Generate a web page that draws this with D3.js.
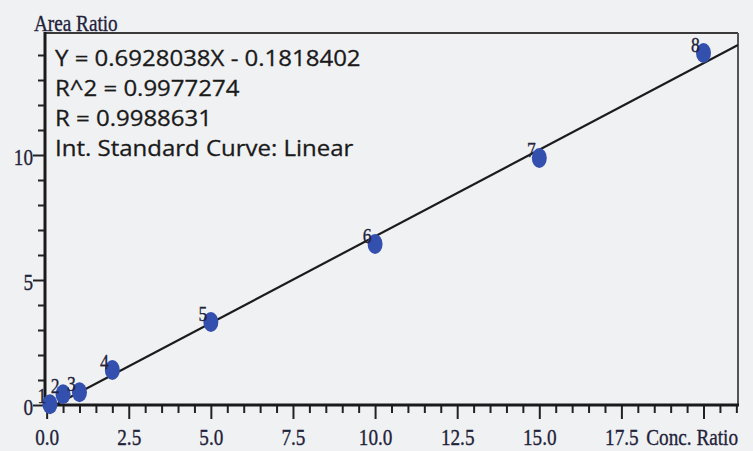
<!DOCTYPE html>
<html>
<head>
<meta charset="utf-8">
<script src="https://cdn.jsdelivr.net/npm/d3@7"></script>
<style>
  html, body { margin: 0; padding: 0; background: #f0f1f3; }
  svg { display: block; }
</style>
</head>
<body>
<div id="chart"></div>
<script>
// ---- data ----
const pointIds   = ["1", "2", "3", "4", "5", "6", "7", "8"];
const concRatio  = [0.1, 0.5, 1.0, 2.0, 5.0, 10.0, 15.0, 20.0];
const areaRatio  = [0.03, 0.43, 0.51, 1.40, 3.32, 6.44, 9.88, 14.08];
const fitSlope = 0.6928038;
const fitIntercept = -0.1818402;
const fitLineX = [0.2625, 21.05];
const xMajorTicks = [0, 2.5, 5, 7.5, 10, 12.5, 15, 17.5, 20];
const xTickLabels = ["0.0", "2.5", "5.0", "7.5", "10.0", "12.5", "15.0", "17.5", ""];
const yMajorTicks = [0, 5, 10];
const yTickLabels = ["0", "5", "10"];
const statLines = [
  "Y = 0.6928038X - 0.1818402",
  "R^2 = 0.9977274",
  "R = 0.9988631",
  "Int. Standard Curve: Linear"
];
const xTitle = "Conc. Ratio";
const yTitle = "Area Ratio";

// ---- layout ----
const W = 753, H = 451;
const pL = 45, pR = 738, pT = 33, pB = 405;

const svg = d3.select("#chart").append("svg")
  .attr("width", W).attr("height", H);

svg.append("rect").attr("width", W).attr("height", H).attr("fill", "#f0f1f3");

const x = d3.scaleLinear().domain([-0.05, 21.05]).range([pL, pR]);
const y = d3.scaleLinear().domain([0, 14.88]).range([pB, pT]);

const serif = "'Liberation Serif', 'DejaVu Serif', serif";
const sans = "'Open Sans', 'Liberation Sans', sans-serif";
const textCol = "#22223a";

function stretch(sel, factor) {
  sel.each(function () {
    const w = this.getComputedTextLength();
    if (w > 0) d3.select(this).attr("textLength", w * factor).attr("lengthAdjust", "spacingAndGlyphs");
  });
}
function serifText(sel, size) {
  sel.attr("font-family", serif).attr("font-size", size).attr("fill", textCol)
    .attr("stroke", textCol).attr("stroke-width", 0.35);
}

// clip
svg.append("defs").append("clipPath").attr("id", "plotclip")
  .append("rect").attr("x", pL).attr("y", pT).attr("width", pR - pL).attr("height", pB - pT);

// frame: top and right borders
svg.append("line").attr("x1", pL).attr("x2", pR).attr("y1", pT).attr("y2", pT)
  .attr("stroke", "#3a3a3a").attr("stroke-width", 2);
svg.append("line").attr("x1", pR).attr("x2", pR).attr("y1", pT).attr("y2", pB)
  .attr("stroke", "#555").attr("stroke-width", 2);

// x axis
const xMinor = d3.range(0, 21.01, 0.5).filter(v => !xMajorTicks.some(m => Math.abs(m - v) < 1e-6));
const xAxisMinor = d3.axisBottom(x).tickValues(xMinor).tickSize(8).tickFormat("");
const xAxisMajor = d3.axisBottom(x).tickValues(xMajorTicks).tickSize(14)
  .tickFormat((d, i) => xTickLabels[i]);

const gxMinor = svg.append("g").attr("transform", `translate(0,${pB})`).call(xAxisMinor);
const gxMajor = svg.append("g").attr("transform", `translate(0,${pB})`).call(xAxisMajor);
[gxMinor, gxMajor].forEach(g => {
  g.select(".domain").remove();
  g.selectAll(".tick line").attr("stroke", "#222").attr("stroke-width", 2);
});
gxMinor.selectAll(".tick text").remove();
gxMajor.selectAll(".tick text").filter(function () { return !this.textContent; }).remove();
gxMajor.selectAll(".tick text")
  .attr("dy", null)
  .attr("y", 40)
  .call(serifText, 24)
  .call(stretch, 0.8);

// y axis
const yMinor = d3.range(0, 14.5, 1).filter(v => !yMajorTicks.includes(v));
const yAxisMinor = d3.axisLeft(y).tickValues(yMinor).tickSize(7).tickFormat("");
const yAxisMajor = d3.axisLeft(y).tickValues(yMajorTicks).tickSize(12)
  .tickFormat((d, i) => yTickLabels[i]);
const gyMinor = svg.append("g").attr("transform", `translate(${pL},0)`).call(yAxisMinor);
const gyMajor = svg.append("g").attr("transform", `translate(${pL},0)`).call(yAxisMajor);
[gyMinor, gyMajor].forEach(g => {
  g.select(".domain").remove();
  g.selectAll(".tick line").attr("stroke", "#222").attr("stroke-width", 2);
});
gyMinor.selectAll(".tick text").remove();
gyMajor.selectAll(".tick text")
  .attr("dy", null).attr("y", 9).attr("x", -12)
  .call(serifText, 24)
  .call(stretch, 0.8);

// axis lines (thick)
svg.append("line").attr("x1", pL).attr("x2", pR + 1).attr("y1", pB).attr("y2", pB)
  .attr("stroke", "#1a1a1a").attr("stroke-width", 3);
svg.append("line").attr("x1", pL).attr("x2", pL).attr("y1", pT - 1).attr("y2", pB + 1.5)
  .attr("stroke", "#1a1a1a").attr("stroke-width", 3);

// axis titles
svg.append("text").attr("x", 34).attr("y", 31)
  .call(serifText, 24)
  .text(yTitle).call(stretch, 0.8);
svg.append("text").attr("x", pR).attr("y", pB + 40).attr("text-anchor", "end")
  .call(serifText, 24)
  .text(xTitle).call(stretch, 0.8);

// fit line
const fitData = fitLineX.map(v => [v, fitSlope * v + fitIntercept]);
svg.append("path")
  .attr("clip-path", "url(#plotclip)")
  .attr("d", d3.line().x(d => x(d[0])).y(d => y(d[1]))(fitData))
  .attr("stroke", "#1c1c1c").attr("stroke-width", 2.2).attr("fill", "none");

// points
const pts = pointIds.map((id, i) => ({ id, cx: concRatio[i], cy: areaRatio[i] }));
svg.append("g").selectAll("ellipse").data(pts).join("ellipse")
  .attr("cx", d => x(d.cx)).attr("cy", d => y(d.cy))
  .attr("rx", 7.5).attr("ry", 10)
  .attr("fill", "#3450ae");

svg.append("g").selectAll("text").data(pts).join("text")
  .attr("x", d => x(d.cx) - 8).attr("y", d => y(d.cy) - 1)
  .attr("text-anchor", "middle")
  .call(serifText, 22)
  .text(d => d.id)
  .call(stretch, 0.8);

// statistics text
svg.append("g").selectAll("text").data(statLines).join("text")
  .attr("x", 55).attr("y", (d, i) => 66 + i * 30)
  .attr("font-family", sans).attr("font-size", 22).attr("fill", "#1a1a1a")
  .attr("stroke", "#1a1a1a").attr("stroke-width", 0.3)
  .text(d => d)
  .call(stretch, 1.09);
</script>
</body>
</html>
